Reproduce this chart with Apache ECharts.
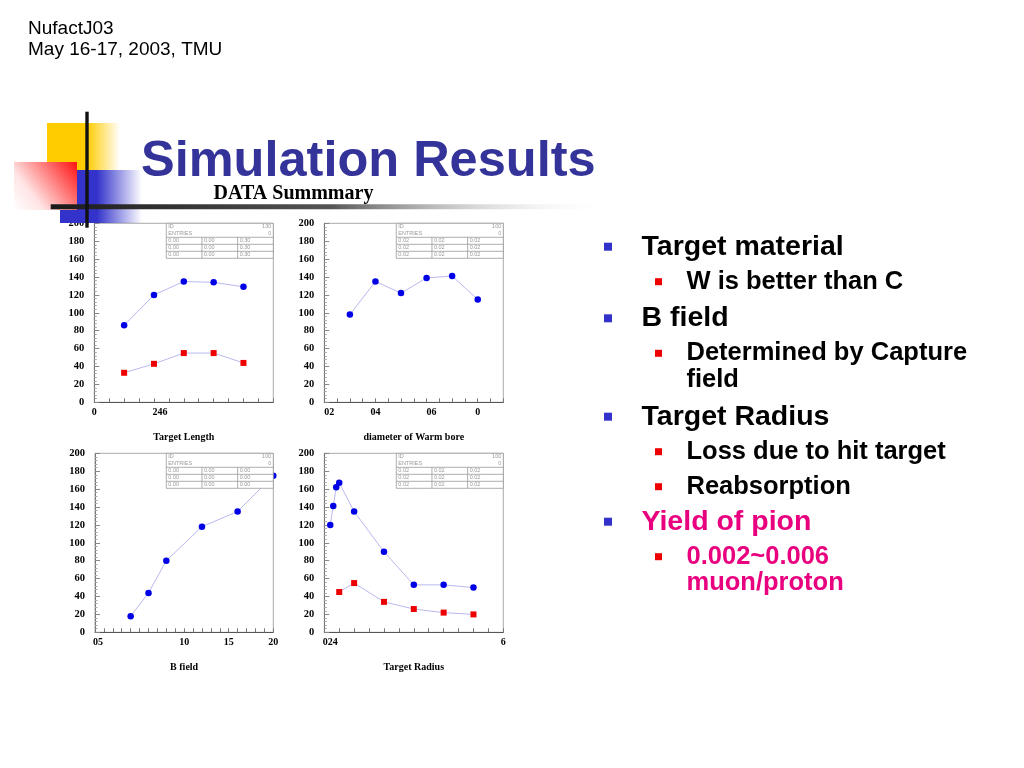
<!DOCTYPE html>
<html><head><meta charset="utf-8">
<script src="https://cdn.jsdelivr.net/npm/echarts@6/dist/echarts.min.js"></script>
<style>html,body{margin:0;padding:0;background:#fff}#c{width:1024px;height:768px}</style>
</head><body><div id="c"></div>
<script>
// ---- data ----
// Panel 1: Target Length
const lengthX = [2, 4, 6, 8, 10];
const lengthBlue = [86, 120, 135, 134, 129];
const lengthRed = [33, 43, 55, 55, 44];
// Panel 2: diameter of Warm bore
const boreX = [1, 2, 3, 4, 5, 6];
const boreBlue = [98, 135, 122, 139, 141, 115];
// Panel 3: B field
const fieldX = [4, 6, 8, 12, 16, 20];
const fieldBlue = [18, 44, 80, 118, 135, 175];
// Panel 4: Target Radius
const radiusBlueX = [0.2, 0.3, 0.4, 0.5, 1, 2, 3, 4, 5];
const radiusBlue = [120, 141, 162, 167, 135, 90, 53, 53, 50];
const radiusRedX = [0.5, 1, 2, 3, 4, 5];
const radiusRed = [45, 55, 34, 26, 22, 20];
// tick labels as printed on the x axes
const lengthTickLabels = {0: '0', 4: '246'};
const boreTickLabels = {0: '02', 2: '04', 4: '06', 6: '0'};
const fieldTickLabels = {0: '05', 10: '10', 15: '15', 20: '20'};
const radiusTickLabels = {0: '024', 6: '6'};
const axisTitles = ['Target Length', 'diameter of Warm bore', 'B field', 'Target Radius'];
const statsIds = ['130', '100', '100', '100'];
const statsRows = [
  ['0.00', '0.00', '0.30'],
  ['0.02', '0.02', '0.02'],
  ['0.00', '0.00', '0.00'],
  ['0.02', '0.02', '0.02']
];
const headerLines = ['NufactJ03', 'May 16-17, 2003, TMU'];
const titleText = 'Simulation Results';
const subtitleText = 'DATA Summmary';
const bullets = [
  {lvl: 1, t: 'Target material', c: '#000'},
  {lvl: 2, t: 'W is better than C', c: '#000'},
  {lvl: 1, t: 'B field', c: '#000'},
  {lvl: 2, t: 'Determined by Capture', c: '#000'},
  {lvl: 3, t: 'field', c: '#000'},
  {lvl: 1, t: 'Target Radius', c: '#000'},
  {lvl: 2, t: 'Loss due to hit target', c: '#000'},
  {lvl: 2, t: 'Reabsorption', c: '#000'},
  {lvl: 1, t: 'Yield of pion', c: '#e8007f'},
  {lvl: 2, t: '0.002~0.006', c: '#e8007f'},
  {lvl: 3, t: 'muon/proton', c: '#e8007f'}
];

// ---- layout / style ----
const grids = [
  {left: 94.3, top: 223.3, width: 179, height: 179},
  {left: 324.3, top: 223.3, width: 179, height: 179},
  {left: 95, top: 453.3, width: 178.3, height: 179},
  {left: 324.3, top: 453.3, width: 179, height: 179}
];
const xCfg = [
  {max: 12, interval: 1, labels: lengthTickLabels, shift: {4: 12}},
  {max: 7, interval: 0.5, labels: boreTickLabels, shift: {0: 10, 4: 10}},
  {max: 20, interval: 1, labels: fieldTickLabels, shift: {0: 6}},
  {max: 6, interval: 0.5, labels: radiusTickLabels, shift: {0: 12}}
];
const serif = '"Liberation Serif", "DejaVu Serif", serif';
const sans = '"Liberation Sans", Arial, sans-serif';
const lineCol = '#b9b9f0';
const blue = '#0000e6';
const red = '#ee0000';

function zip(xs, ys) { return xs.map((x, i) => [x, ys[i]]); }

const labelFont = {fontFamily: serif, fontWeight: 'bold', fontSize: 10, color: '#000'};
const rich = {n: Object.assign({}, labelFont)};
[6, 10, 12].forEach(p => { rich['p' + p] = Object.assign({padding: [0, 0, 0, p]}, labelFont); });

const xAxes = xCfg.map((c, i) => ({
  type: 'value', gridIndex: i, min: 0, max: c.max, interval: c.interval,
  axisLine: {lineStyle: {color: '#555', width: 1}},
  axisTick: {inside: true, length: 4, lineStyle: {color: '#777'}},
  splitLine: {show: false},
  axisLabel: {
    margin: 5, ...labelFont, rich: rich, hideOverlap: false,
    formatter: v => {
      const t = c.labels[v];
      if (t == null) return '';
      const s = c.shift[v];
      return s ? '{p' + s + '|' + t + '}' : '{n|' + t + '}';
    }
  },
  name: axisTitles[i], nameLocation: 'middle', nameGap: 30,
  nameTextStyle: {fontFamily: serif, fontWeight: 'bold', fontSize: 10, color: '#000'}
}));
const yAxes = grids.map((g, i) => ({
  type: 'value', gridIndex: i, min: 0, max: 200, interval: 20,
  axisLine: {show: true, lineStyle: {color: '#777', width: 1}},
  axisTick: {show: true, inside: true, length: 5, lineStyle: {color: '#888'}},
  minorTick: {show: true, splitNumber: 5, length: 2.5, lineStyle: {color: '#aaa'}},
  splitLine: {show: false},
  axisLabel: {margin: 10, ...labelFont, fontSize: 10.5}
}));

function mk(i, xs, ys, col, sym) {
  return {
    type: 'line', xAxisIndex: i, yAxisIndex: i, data: zip(xs, ys),
    symbol: sym, symbolSize: sym === 'rect' ? 6 : 6.5, clip: false, animation: false,
    lineStyle: {color: lineCol, width: 1},
    itemStyle: {color: col}
  };
}
const series = [
  mk(0, lengthX, lengthBlue, blue, 'circle'),
  mk(0, lengthX, lengthRed, red, 'rect'),
  mk(1, boreX, boreBlue, blue, 'circle'),
  mk(2, fieldX, fieldBlue, blue, 'circle'),
  mk(3, radiusBlueX, radiusBlue, blue, 'circle'),
  mk(3, radiusRedX, radiusRed, red, 'rect')
];

// stats boxes (decoration)
const graphics = [];
grids.forEach((g, i) => {
  const w = 107, h = 35, rh = 7;
  const x0 = g.left + g.width - w, y0 = g.top;
  const st = {stroke: '#999', lineWidth: 0.8};
  const txt = {fontFamily: sans, fontSize: 5.5, fill: '#999', verticalAlign: 'middle'};
  graphics.push({type: 'rect', shape: {x: x0, y: y0, width: w, height: h}, style: {fill: '#fff', ...st}, z: 50});
  [2, 3, 4].forEach(r => graphics.push({type: 'line', shape: {x1: x0, y1: y0 + r * rh, x2: x0 + w, y2: y0 + r * rh}, style: st, z: 51}));
  [1, 2].forEach(cc => graphics.push({type: 'line', shape: {x1: x0 + cc * w / 3, y1: y0 + 2 * rh, x2: x0 + cc * w / 3, y2: y0 + h}, style: st, z: 51}));
  graphics.push({type: 'text', x: x0 + 2, y: y0 + 3.5, style: {text: 'ID', ...txt}, z: 52});
  graphics.push({type: 'text', x: x0 + w - 2, y: y0 + 3.5, style: {text: statsIds[i], align: 'right', ...txt}, z: 52});
  graphics.push({type: 'text', x: x0 + 2, y: y0 + 10.5, style: {text: 'ENTRIES', ...txt}, z: 52});
  graphics.push({type: 'text', x: x0 + w - 2, y: y0 + 10.5, style: {text: '0', align: 'right', ...txt}, z: 52});
  for (let r = 0; r < 3; r++) {
    for (let cc = 0; cc < 3; cc++) {
      graphics.push({type: 'text', x: x0 + cc * w / 3 + 2, y: y0 + (2 + r) * rh + 3.5,
        style: {text: statsRows[i][cc], ...txt}, z: 52});
    }
  }
});

// slide decoration
graphics.push({type: 'rect', shape: {x: 47, y: 123, width: 73, height: 47}, z: 1,
  style: {fill: new echarts.graphic.LinearGradient(0, 0, 1, 0, [
    {offset: 0, color: '#ffcc00'}, {offset: 0.55, color: '#ffcc00'}, {offset: 1, color: 'rgba(255,204,0,0)'}])}});
graphics.push({type: 'rect', shape: {x: 60, y: 170, width: 82, height: 53}, z: 2,
  style: {fill: new echarts.graphic.LinearGradient(0, 0, 1, 0, [
    {offset: 0, color: '#3333cc'}, {offset: 0.45, color: '#3333cc'}, {offset: 1, color: 'rgba(51,51,204,0)'}])}});
graphics.push({type: 'rect', shape: {x: 14, y: 162, width: 63, height: 48}, z: 3,
  style: {fill: new echarts.graphic.LinearGradient(0, 1, 1, 0, [
    {offset: 0, color: '#ffffff'}, {offset: 0.3, color: '#ffe4e4'}, {offset: 1, color: '#ff1010'}])}});
graphics.push({type: 'rect', shape: {x: 50.7, y: 204.3, width: 560, height: 5}, z: 4,
  style: {fill: new echarts.graphic.LinearGradient(0, 0, 1, 0, [
    {offset: 0, color: '#1a1a1a'}, {offset: 0.5, color: '#555'}, {offset: 1, color: 'rgba(255,255,255,0)'}])}});
graphics.push({type: 'rect', shape: {x: 85.3, y: 111.7, width: 3.4, height: 116}, z: 5, style: {fill: '#111'}});

// texts
graphics.push({type: 'text', x: 28, y: 29, z: 10, style: {text: headerLines[0], fontFamily: sans, fontSize: 19, fill: '#000', verticalAlign: 'middle'}});
graphics.push({type: 'text', x: 28, y: 50, z: 10, style: {text: headerLines[1], fontFamily: sans, fontSize: 19, fill: '#000', verticalAlign: 'middle'}});
graphics.push({type: 'text', x: 141, y: 162, z: 10, style: {text: titleText, fontFamily: sans, fontWeight: 'bold', fontSize: 50.5, fill: '#333399', verticalAlign: 'middle'}});
graphics.push({type: 'text', x: 293.5, y: 193.5, z: 10, style: {text: subtitleText, fontFamily: serif, fontWeight: 'bold', fontSize: 20, fill: '#000', align: 'center', verticalAlign: 'middle'}});

const bulletY = [246.7, 281.7, 318.3, 353.3, 380, 416.7, 451.7, 486.7, 521.7, 556.7, 583.3];
bullets.forEach((b, i) => {
  const y = bulletY[i];
  if (b.lvl === 1) {
    graphics.push({type: 'rect', shape: {x: 604, y: y - 4, width: 8, height: 8}, style: {fill: '#3333cc'}, z: 10});
    graphics.push({type: 'text', x: 641.5, y: y, z: 10, style: {text: b.t, fontFamily: sans, fontWeight: 'bold', fontSize: 28.5, fill: b.c, verticalAlign: 'middle'}});
  } else {
    if (b.lvl === 2) graphics.push({type: 'rect', shape: {x: 655, y: y - 3.5, width: 7, height: 7}, style: {fill: '#ee0000'}, z: 10});
    graphics.push({type: 'text', x: 686.5, y: y, z: 10, style: {text: b.t, fontFamily: sans, fontWeight: 'bold', fontSize: 25.5, fill: b.c, verticalAlign: 'middle'}});
  }
});

const chart = echarts.init(document.getElementById('c'), null, {renderer: 'canvas'});
chart.setOption({
  backgroundColor: '#fff',
  animation: false,
  grid: grids.map(g => ({...g, show: true, borderColor: '#aaa', borderWidth: 1, backgroundColor: 'transparent'})),
  xAxis: xAxes,
  yAxis: yAxes,
  series: series,
  graphic: graphics
});
</script>
</body></html>
